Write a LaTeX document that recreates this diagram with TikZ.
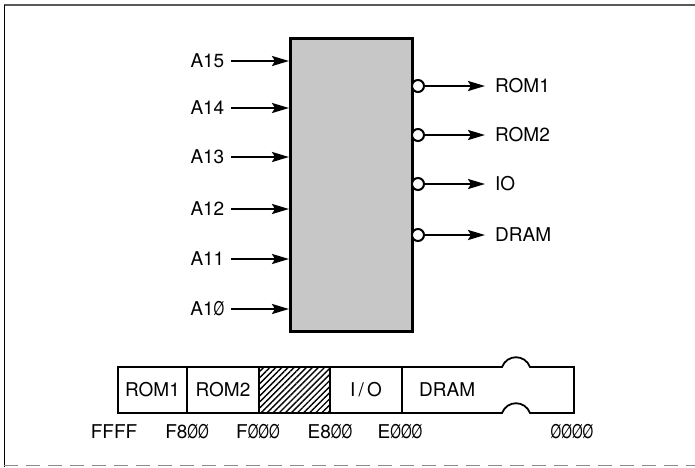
\documentclass[tikz,border=0pt]{standalone}
\usepackage{fontspec}
\setmainfont{TeX Gyre Heros}
\usepackage{graphicx}
\usetikzlibrary{arrows.meta,patterns.meta}
\newcommand\zs{\scalebox{0.72}[1]{Ø}}
\begin{document}
\begin{tikzpicture}[x=1pt,y=-1pt,
  lbl/.style={font=\fontsize{19}{22}\selectfont, inner sep=0pt},
  inlbl/.style={lbl, anchor=east, inner xsep=6.5pt},
  outlbl/.style={lbl, anchor=west, inner xsep=10pt},
  arr/.style={line width=2.2pt, -{Stealth[length=17pt,width=10pt,inset=3pt]}},
  bubble/.style={circle, draw, line width=2pt, fill=white, minimum size=12pt, inner sep=0pt},
  barline/.style={line width=1.8pt, line join=miter}]
\useasboundingbox (0,0) rectangle (695,467);
% frame
\draw[line width=1.8pt, black!65] (4,5) -- (695,5);
\draw[line width=1.3pt] (4.5,5) -- (4.5,467);
\draw[line width=1.3pt, black!45, dash pattern=on 14pt off 8pt] (4,465.5) -- (695,465.5);
% decoder box
\node[draw, line width=2.5pt, fill=black!22, minimum width=122pt, minimum height=293pt,
      anchor=north west, inner sep=0pt] (dec) at (289,37) {};
% inputs
\node[inlbl] (a15) at (231,61) {A15};
\node[inlbl] (a14) at (231,108) {A14};
\node[inlbl] (a13) at (231,157) {A13};
\node[inlbl] (a12) at (231,209) {A12};
\node[inlbl] (a11) at (231,259) {A11};
\node[inlbl] (a10) at (231,309) {A1\zs};
\foreach \n in {a15,a14,a13,a12,a11,a10}
  \draw[arr] (\n.east) -- (\n.east -| dec.west);
% outputs
\node[bubble] (c1) at (418,86) {};
\node[bubble] (c2) at (418,135) {};
\node[bubble] (c3) at (418,184) {};
\node[bubble] (c4) at (418,235) {};
\node[outlbl] (o1) at (485,86) {ROM1};
\node[outlbl] (o2) at (485,135) {ROM2};
\node[outlbl] (o3) at (485,184) {IO};
\node[outlbl] (o4) at (485,235) {DRAM};
\draw[arr] (c1.east) -- (o1.west);
\draw[arr] (c2.east) -- (o2.west);
\draw[arr] (c3.east) -- (o3.west);
\draw[arr] (c4.east) -- (o4.west);
% memory bar
\fill[pattern={Lines[angle=45,distance=4.3pt,line width=1.4pt]}] (259,367) rectangle (330,413);
\draw[barline] (118,367) -- (502,367) .. controls (507,354) and (525,354) .. (530,367)
  -- (574,367) -- (574,413) -- (530,413) .. controls (525,400) and (507,400) .. (502,413)
  -- (118,413) -- cycle;
\foreach \x in {187,259,330,402}
  \draw[barline] (\x,367) -- (\x,413);
\node[lbl] (mrom1) at (152.5,390) {ROM1};
\node[lbl] (mrom2) at (223,390) {ROM2};
\node[lbl] (mio) at (366,390) {I\,/\,O};
\node[lbl, anchor=west] (mdram) at (419,390) {DRAM};
% addresses
\node[lbl] (ffff) at (114,432) {FFFF};
\node[lbl] (f800) at (187,432) {F8\zs\zs};
\node[lbl] (f000) at (258,432) {F\zs\zs\zs};
\node[lbl] (e800) at (330,432) {E8\zs\zs};
\node[lbl] (e000) at (400,432) {E\zs\zs\zs};
\node[lbl] (z000) at (572,432) {\zs\zs\zs\zs};
\end{tikzpicture}
\end{document}
